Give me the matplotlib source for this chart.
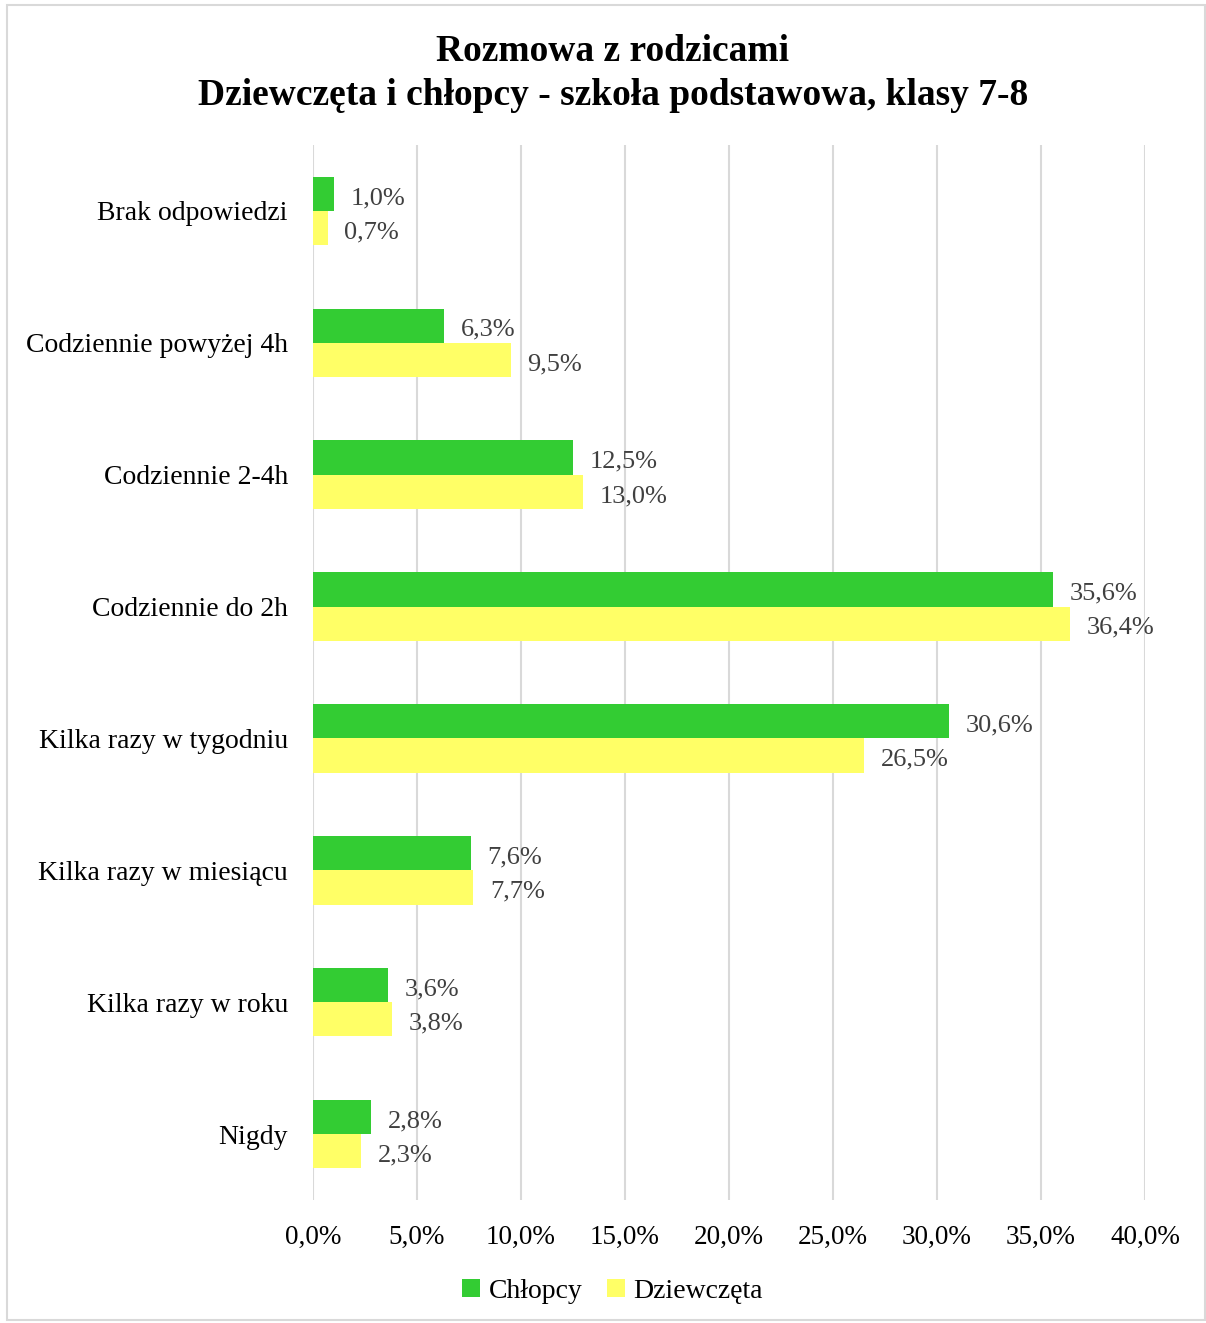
import matplotlib.pyplot as plt
import numpy as np
from matplotlib.patches import Rectangle
from matplotlib.ticker import FuncFormatter

plt.rcParams['font.family'] = ['Liberation Serif', 'DejaVu Serif']

categories = ["Brak odpowiedzi", "Codziennie powyżej 4h", "Codziennie 2-4h",
              "Codziennie do 2h", "Kilka razy w tygodniu", "Kilka razy w miesiącu",
              "Kilka razy w roku", "Nigdy"]
chlopcy = [1.0, 6.3, 12.5, 35.6, 30.6, 7.6, 3.6, 2.8]
dziewczeta = [0.7, 9.5, 13.0, 36.4, 26.5, 7.7, 3.8, 2.3]
series_names = ["Chłopcy", "Dziewczęta"]
xticks = [0, 5, 10, 15, 20, 25, 30, 35, 40]

green = "#33cc33"
yellow = "#ffff66"

fig = plt.figure(figsize=(12.06, 13.23), dpi=100)
ax = fig.add_axes([0.2595, 0.093, 0.6899, 0.7974])

y = np.arange(len(categories))
h = 0.26
b1 = ax.barh(y - h / 2, chlopcy, height=h, color=green, label=series_names[0], zorder=3)
b2 = ax.barh(y + h / 2, dziewczeta, height=h, color=yellow, label=series_names[1], zorder=3)

def fmt(v):
    return f"{v:.1f}%".replace(".", ",")

for bars, vals in ((b1, chlopcy), (b2, dziewczeta)):
    for bar, v in zip(bars, vals):
        ax.annotate(fmt(v), (v, bar.get_y() + bar.get_height() / 2),
                    xytext=(12, -3), textcoords="offset points",
                    va="center", ha="left", fontsize=19, color="#404040")

ax.set_xlim(0, 40)
ax.set_ylim(len(categories) - 0.5, -0.5)
ax.set_xticks(xticks)
ax.xaxis.set_major_formatter(FuncFormatter(lambda v, p: fmt(v)))
ax.set_yticks(y)
ax.set_yticklabels(categories)
ax.tick_params(axis="both", length=0, labelsize=19.5, colors="black")
ax.tick_params(axis="x", pad=18)
ax.tick_params(axis="y", labelsize=20, pad=18)
ax.grid(axis="x", color="#d9d9d9", linewidth=1.5, zorder=0)
for s in ax.spines.values():
    s.set_visible(False)

fig.text(0.508, 0.961, "Rozmowa z rodzicami", ha="center", va="center",
         fontsize=27, fontweight="bold")
fig.text(0.508, 0.928, "Dziewczęta i chłopcy - szkoła podstawowa, klasy 7-8",
         ha="center", va="center", fontsize=27, fontweight="bold")

leg = fig.legend(handles=[b1, b2], loc="center", bbox_to_anchor=(0.508, 0.024),
                 ncol=2, frameon=False, fontsize=20, handlelength=0.65,
                 handleheight=0.65, handletextpad=0.3, columnspacing=0.9)

fig.patches.append(Rectangle((0.006, 0.002), 0.993, 0.994, transform=fig.transFigure,
                             fill=False, edgecolor="#d9d9d9", linewidth=1.5))

fig.savefig("out.png", dpi=100)
